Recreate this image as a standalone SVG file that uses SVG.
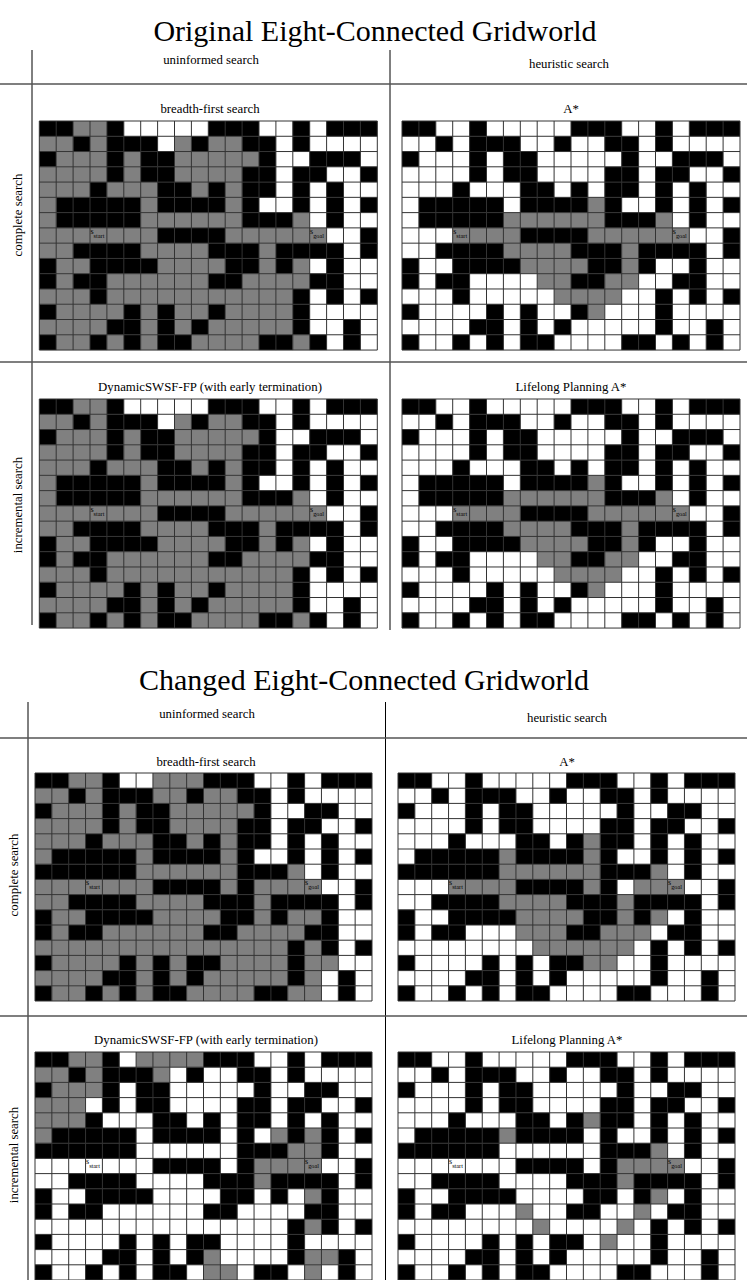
<svg xmlns="http://www.w3.org/2000/svg" xmlns:xlink="http://www.w3.org/1999/xlink" width="747" height="1280" viewBox="0 0 747 1280">
<style>
text{font-family:"Liberation Serif","Times New Roman",serif;fill:#000}
.title{font-size:30px;text-anchor:middle}
.hdr{font-size:12.8px;text-anchor:middle}
.lbl{font-size:8px}
.sub{font-size:6.3px}
.g rect{fill:#808080}
.w rect{fill:#000}
.rule{stroke:#555;stroke-width:1.5}
.vrule{stroke:#000;stroke-width:1}
.gl{fill:none;stroke:#333;stroke-width:1;vector-effect:non-scaling-stroke}
</style>
<defs>
<g id="wallsO" class="w">
<rect x="0" y="0" width="2" height="1"/><rect x="4" y="0" width="1" height="1"/><rect x="10" y="0" width="3" height="1"/><rect x="15" y="0" width="1" height="1"/><rect x="17" y="0" width="3" height="1"/>
<rect x="2" y="1" width="1" height="1"/><rect x="4" y="1" width="3" height="1"/><rect x="9" y="1" width="1" height="1"/><rect x="12" y="1" width="2" height="1"/><rect x="15" y="1" width="1" height="1"/>
<rect x="0" y="2" width="1" height="1"/><rect x="4" y="2" width="1" height="1"/><rect x="6" y="2" width="2" height="1"/><rect x="13" y="2" width="1" height="1"/><rect x="16" y="2" width="3" height="1"/>
<rect x="4" y="3" width="1" height="1"/><rect x="6" y="3" width="2" height="1"/><rect x="12" y="3" width="2" height="1"/><rect x="15" y="3" width="2" height="1"/><rect x="19" y="3" width="1" height="1"/>
<rect x="3" y="4" width="1" height="1"/><rect x="7" y="4" width="2" height="1"/><rect x="10" y="4" width="1" height="1"/><rect x="12" y="4" width="2" height="1"/><rect x="15" y="4" width="1" height="1"/><rect x="17" y="4" width="1" height="1"/>
<rect x="1" y="5" width="5" height="1"/><rect x="7" y="5" width="4" height="1"/><rect x="12" y="5" width="1" height="1"/><rect x="15" y="5" width="1" height="1"/><rect x="17" y="5" width="1" height="1"/><rect x="19" y="5" width="1" height="1"/>
<rect x="1" y="6" width="5" height="1"/><rect x="12" y="6" width="3" height="1"/><rect x="17" y="6" width="1" height="1"/>
<rect x="7" y="7" width="4" height="1"/><rect x="19" y="7" width="1" height="1"/>
<rect x="2" y="8" width="4" height="1"/><rect x="10" y="8" width="3" height="1"/><rect x="14" y="8" width="4" height="1"/><rect x="19" y="8" width="1" height="1"/>
<rect x="0" y="9" width="1" height="1"/><rect x="3" y="9" width="4" height="1"/><rect x="11" y="9" width="2" height="1"/><rect x="14" y="9" width="1" height="1"/><rect x="17" y="9" width="1" height="1"/>
<rect x="0" y="10" width="1" height="1"/><rect x="2" y="10" width="2" height="1"/><rect x="10" y="10" width="2" height="1"/><rect x="16" y="10" width="2" height="1"/>
<rect x="3" y="11" width="1" height="1"/><rect x="15" y="11" width="1" height="1"/><rect x="17" y="11" width="1" height="1"/><rect x="19" y="11" width="1" height="1"/>
<rect x="0" y="12" width="1" height="1"/><rect x="5" y="12" width="1" height="1"/><rect x="7" y="12" width="1" height="1"/><rect x="10" y="12" width="1" height="1"/><rect x="15" y="12" width="1" height="1"/>
<rect x="4" y="13" width="2" height="1"/><rect x="7" y="13" width="1" height="1"/><rect x="9" y="13" width="1" height="1"/><rect x="15" y="13" width="1" height="1"/><rect x="18" y="13" width="1" height="1"/>
<rect x="0" y="14" width="1" height="1"/><rect x="3" y="14" width="1" height="1"/><rect x="5" y="14" width="1" height="1"/><rect x="7" y="14" width="2" height="1"/><rect x="13" y="14" width="2" height="1"/><rect x="16" y="14" width="1" height="1"/><rect x="18" y="14" width="1" height="1"/>
</g>
<g id="wallsC" class="w">
<rect x="0" y="0" width="2" height="1"/><rect x="4" y="0" width="1" height="1"/><rect x="10" y="0" width="3" height="1"/><rect x="15" y="0" width="1" height="1"/><rect x="17" y="0" width="3" height="1"/>
<rect x="2" y="1" width="1" height="1"/><rect x="4" y="1" width="3" height="1"/><rect x="9" y="1" width="1" height="1"/><rect x="12" y="1" width="2" height="1"/><rect x="15" y="1" width="1" height="1"/>
<rect x="0" y="2" width="1" height="1"/><rect x="4" y="2" width="1" height="1"/><rect x="6" y="2" width="2" height="1"/><rect x="13" y="2" width="1" height="1"/><rect x="16" y="2" width="2" height="1"/>
<rect x="4" y="3" width="1" height="1"/><rect x="6" y="3" width="2" height="1"/><rect x="12" y="3" width="2" height="1"/><rect x="15" y="3" width="2" height="1"/><rect x="19" y="3" width="1" height="1"/>
<rect x="3" y="4" width="1" height="1"/><rect x="7" y="4" width="2" height="1"/><rect x="10" y="4" width="1" height="1"/><rect x="12" y="4" width="2" height="1"/><rect x="15" y="4" width="1" height="1"/><rect x="17" y="4" width="1" height="1"/>
<rect x="1" y="5" width="5" height="1"/><rect x="7" y="5" width="4" height="1"/><rect x="12" y="5" width="1" height="1"/><rect x="15" y="5" width="1" height="1"/><rect x="17" y="5" width="1" height="1"/><rect x="19" y="5" width="1" height="1"/>
<rect x="0" y="6" width="6" height="1"/><rect x="12" y="6" width="3" height="1"/><rect x="17" y="6" width="1" height="1"/>
<rect x="7" y="7" width="4" height="1"/><rect x="12" y="7" width="1" height="1"/><rect x="19" y="7" width="1" height="1"/>
<rect x="2" y="8" width="4" height="1"/><rect x="10" y="8" width="3" height="1"/><rect x="14" y="8" width="4" height="1"/><rect x="19" y="8" width="1" height="1"/>
<rect x="0" y="9" width="1" height="1"/><rect x="3" y="9" width="4" height="1"/><rect x="11" y="9" width="2" height="1"/><rect x="14" y="9" width="1" height="1"/><rect x="17" y="9" width="1" height="1"/>
<rect x="0" y="10" width="1" height="1"/><rect x="2" y="10" width="2" height="1"/><rect x="10" y="10" width="2" height="1"/><rect x="16" y="10" width="2" height="1"/>
<rect x="15" y="11" width="1" height="1"/><rect x="17" y="11" width="1" height="1"/><rect x="19" y="11" width="1" height="1"/>
<rect x="0" y="12" width="1" height="1"/><rect x="5" y="12" width="1" height="1"/><rect x="7" y="12" width="1" height="1"/><rect x="9" y="12" width="2" height="1"/><rect x="15" y="12" width="1" height="1"/>
<rect x="4" y="13" width="2" height="1"/><rect x="7" y="13" width="1" height="1"/><rect x="9" y="13" width="1" height="1"/><rect x="15" y="13" width="1" height="1"/><rect x="18" y="13" width="1" height="1"/>
<rect x="0" y="14" width="1" height="1"/><rect x="3" y="14" width="1" height="1"/><rect x="5" y="14" width="1" height="1"/><rect x="7" y="14" width="2" height="1"/><rect x="13" y="14" width="2" height="1"/><rect x="18" y="14" width="1" height="1"/>
</g>
<g id="greyOB" class="g">
<rect x="2" y="0" width="2" height="1"/>
<rect x="0" y="1" width="2" height="1"/><rect x="3" y="1" width="1" height="1"/><rect x="8" y="1" width="1" height="1"/><rect x="10" y="1" width="2" height="1"/>
<rect x="1" y="2" width="3" height="1"/><rect x="5" y="2" width="1" height="1"/><rect x="8" y="2" width="5" height="1"/>
<rect x="0" y="3" width="4" height="1"/><rect x="5" y="3" width="1" height="1"/><rect x="8" y="3" width="4" height="1"/>
<rect x="0" y="4" width="3" height="1"/><rect x="4" y="4" width="3" height="1"/><rect x="9" y="4" width="1" height="1"/><rect x="11" y="4" width="1" height="1"/>
<rect x="0" y="5" width="1" height="1"/><rect x="6" y="5" width="1" height="1"/><rect x="11" y="5" width="1" height="1"/>
<rect x="0" y="6" width="1" height="1"/><rect x="6" y="6" width="6" height="1"/><rect x="15" y="6" width="1" height="1"/>
<rect x="0" y="7" width="7" height="1"/><rect x="11" y="7" width="6" height="1"/>
<rect x="0" y="8" width="2" height="1"/><rect x="6" y="8" width="4" height="1"/><rect x="13" y="8" width="1" height="1"/>
<rect x="1" y="9" width="2" height="1"/><rect x="7" y="9" width="4" height="1"/><rect x="13" y="9" width="1" height="1"/><rect x="15" y="9" width="1" height="1"/>
<rect x="1" y="10" width="1" height="1"/><rect x="4" y="10" width="6" height="1"/><rect x="12" y="10" width="4" height="1"/>
<rect x="0" y="11" width="3" height="1"/><rect x="4" y="11" width="11" height="1"/>
<rect x="1" y="12" width="4" height="1"/><rect x="6" y="12" width="1" height="1"/><rect x="8" y="12" width="2" height="1"/><rect x="11" y="12" width="4" height="1"/>
<rect x="0" y="13" width="4" height="1"/><rect x="6" y="13" width="1" height="1"/><rect x="8" y="13" width="1" height="1"/><rect x="10" y="13" width="5" height="1"/>
<rect x="1" y="14" width="2" height="1"/><rect x="4" y="14" width="1" height="1"/><rect x="6" y="14" width="1" height="1"/><rect x="9" y="14" width="4" height="1"/><rect x="15" y="14" width="1" height="1"/>
</g>
<g id="greyOA" class="g">
<rect x="11" y="5" width="1" height="1"/>
<rect x="6" y="6" width="6" height="1"/><rect x="15" y="6" width="1" height="1"/>
<rect x="3" y="7" width="4" height="1"/><rect x="11" y="7" width="6" height="1"/>
<rect x="6" y="8" width="4" height="1"/><rect x="13" y="8" width="1" height="1"/>
<rect x="7" y="9" width="4" height="1"/><rect x="13" y="9" width="1" height="1"/>
<rect x="8" y="10" width="2" height="1"/><rect x="12" y="10" width="2" height="1"/>
<rect x="9" y="11" width="4" height="1"/>
<rect x="11" y="12" width="1" height="1"/>
</g>
<path id="gridlines" class="gl" d="M0 0V15M1 0V15M2 0V15M3 0V15M4 0V15M5 0V15M6 0V15M7 0V15M8 0V15M9 0V15M10 0V15M11 0V15M12 0V15M13 0V15M14 0V15M15 0V15M16 0V15M17 0V15M18 0V15M19 0V15M20 0V15M0 0H20M0 1H20M0 2H20M0 3H20M0 4H20M0 5H20M0 6H20M0 7H20M0 8H20M0 9H20M0 10H20M0 11H20M0 12H20M0 13H20M0 14H20M0 15H20"/>
</defs>

<g id="section-original">
<text class="title" x="375" y="41">Original Eight-Connected Gridworld</text>
<g id="table-lines-original">
<line class="vrule" x1="32" y1="50" x2="32" y2="625"/>
<line class="vrule" x1="390" y1="50" x2="390" y2="630"/>
<line class="rule" x1="0" y1="84" x2="747" y2="84"/>
<line class="rule" x1="0" y1="362" x2="747" y2="362"/>
</g>
<text class="hdr" x="211" y="64">uninformed search</text>
<text class="hdr" x="569" y="68">heuristic search</text>
<text class="hdr" transform="translate(22,215) rotate(-90)">complete search</text>
<text class="hdr" transform="translate(22,505) rotate(-90)">incremental search</text>
<text class="hdr" x="210" y="113">breadth-first search</text>
<text class="hdr" x="571" y="113">A*</text>
<text class="hdr" x="210" y="391">DynamicSWSF-FP (with early termination)</text>
<text class="hdr" x="571" y="391">Lifelong Planning A*</text>

<g id="panel-orig-bfs" transform="translate(39.3,121)">
<g transform="scale(16.9,15.27)"><rect width="20" height="15" fill="#fff"/><use xlink:href="#wallsO"/><use xlink:href="#greyOB"/><use xlink:href="#gridlines"/></g>
<text class="lbl" x="51.2" y="113">s<tspan class="sub" dy="3.5">start</tspan></text>
<text class="lbl" x="270.8" y="113">s<tspan class="sub" dy="3.5">goal</tspan></text>
</g>
<g id="panel-orig-astar" transform="translate(402,121)">
<g transform="scale(16.9,15.27)"><rect width="20" height="15" fill="#fff"/><use xlink:href="#wallsO"/><use xlink:href="#greyOA"/><use xlink:href="#gridlines"/></g>
<text class="lbl" x="51.2" y="113">s<tspan class="sub" dy="3.5">start</tspan></text>
<text class="lbl" x="270.8" y="113">s<tspan class="sub" dy="3.5">goal</tspan></text>
</g>
<g id="panel-orig-dswsf" transform="translate(39.3,399)">
<g transform="scale(16.9,15.27)"><rect width="20" height="15" fill="#fff"/><use xlink:href="#wallsO"/><use xlink:href="#greyOB"/><use xlink:href="#gridlines"/></g>
<text class="lbl" x="51.2" y="113">s<tspan class="sub" dy="3.5">start</tspan></text>
<text class="lbl" x="270.8" y="113">s<tspan class="sub" dy="3.5">goal</tspan></text>
</g>
<g id="panel-orig-lpa" transform="translate(402,399)">
<g transform="scale(16.9,15.27)"><rect width="20" height="15" fill="#fff"/><use xlink:href="#wallsO"/><use xlink:href="#greyOA"/><use xlink:href="#gridlines"/></g>
<text class="lbl" x="51.2" y="113">s<tspan class="sub" dy="3.5">start</tspan></text>
<text class="lbl" x="270.8" y="113">s<tspan class="sub" dy="3.5">goal</tspan></text>
</g>
</g>

<g id="section-changed">
<text class="title" x="364" y="690">Changed Eight-Connected Gridworld</text>
<g id="table-lines-changed">
<line class="vrule" x1="28" y1="702" x2="28" y2="1280"/>
<line class="vrule" x1="385.5" y1="702" x2="385.5" y2="1280"/>
<line class="rule" x1="0" y1="738" x2="747" y2="738"/>
<line class="rule" x1="0" y1="1016" x2="747" y2="1016"/>
</g>
<text class="hdr" x="207" y="718">uninformed search</text>
<text class="hdr" x="567" y="722">heuristic search</text>
<text class="hdr" transform="translate(18,875) rotate(-90)">complete search</text>
<text class="hdr" transform="translate(18,1155) rotate(-90)">incremental search</text>
<text class="hdr" x="206" y="766">breadth-first search</text>
<text class="hdr" x="567" y="766">A*</text>
<text class="hdr" x="206" y="1044">DynamicSWSF-FP (with early termination)</text>
<text class="hdr" x="567" y="1044">Lifelong Planning A*</text>

<g id="panel-changed-bfs" transform="translate(35,773)">
<g transform="scale(16.85,15.2)"><rect width="20" height="15" fill="#fff"/><use xlink:href="#wallsC"/>
<g class="g">
<rect x="2" y="0" width="2" height="1"/><rect x="7" y="0" width="3" height="1"/>
<rect x="0" y="1" width="2" height="1"/><rect x="3" y="1" width="1" height="1"/><rect x="7" y="1" width="2" height="1"/><rect x="10" y="1" width="2" height="1"/>
<rect x="1" y="2" width="3" height="1"/><rect x="5" y="2" width="1" height="1"/><rect x="8" y="2" width="5" height="1"/>
<rect x="0" y="3" width="4" height="1"/><rect x="5" y="3" width="1" height="1"/><rect x="8" y="3" width="4" height="1"/>
<rect x="0" y="4" width="3" height="1"/><rect x="4" y="4" width="3" height="1"/><rect x="9" y="4" width="1" height="1"/><rect x="11" y="4" width="1" height="1"/>
<rect x="0" y="5" width="1" height="1"/><rect x="6" y="5" width="1" height="1"/><rect x="11" y="5" width="1" height="1"/>
<rect x="6" y="6" width="6" height="1"/><rect x="15" y="6" width="1" height="1"/>
<rect x="0" y="7" width="7" height="1"/><rect x="11" y="7" width="1" height="1"/><rect x="13" y="7" width="4" height="1"/>
<rect x="0" y="8" width="2" height="1"/><rect x="6" y="8" width="4" height="1"/><rect x="13" y="8" width="1" height="1"/>
<rect x="1" y="9" width="2" height="1"/><rect x="7" y="9" width="4" height="1"/><rect x="13" y="9" width="1" height="1"/><rect x="15" y="9" width="2" height="1"/>
<rect x="1" y="10" width="1" height="1"/><rect x="4" y="10" width="6" height="1"/><rect x="12" y="10" width="4" height="1"/>
<rect x="0" y="11" width="15" height="1"/><rect x="16" y="11" width="1" height="1"/>
<rect x="1" y="12" width="4" height="1"/><rect x="6" y="12" width="1" height="1"/><rect x="8" y="12" width="1" height="1"/><rect x="11" y="12" width="4" height="1"/><rect x="16" y="12" width="2" height="1"/>
<rect x="0" y="13" width="4" height="1"/><rect x="6" y="13" width="1" height="1"/><rect x="8" y="13" width="1" height="1"/><rect x="10" y="13" width="5" height="1"/><rect x="16" y="13" width="1" height="1"/>
<rect x="1" y="14" width="2" height="1"/><rect x="4" y="14" width="1" height="1"/><rect x="6" y="14" width="1" height="1"/><rect x="9" y="14" width="4" height="1"/><rect x="15" y="14" width="2" height="1"/>
</g>
<use xlink:href="#gridlines"/></g>
<text class="lbl" x="51" y="112.4">s<tspan class="sub" dy="3.5">start</tspan></text>
<text class="lbl" x="270" y="112.4">s<tspan class="sub" dy="3.5">goal</tspan></text>
</g>
<g id="panel-changed-astar" transform="translate(398,773)">
<g transform="scale(16.85,15.2)"><rect width="20" height="15" fill="#fff"/><use xlink:href="#wallsC"/>
<g class="g">
<rect x="11" y="4" width="1" height="1"/>
<rect x="6" y="5" width="1" height="1"/><rect x="11" y="5" width="1" height="1"/>
<rect x="6" y="6" width="6" height="1"/><rect x="15" y="6" width="1" height="1"/>
<rect x="3" y="7" width="4" height="1"/><rect x="11" y="7" width="1" height="1"/><rect x="14" y="7" width="3" height="1"/>
<rect x="6" y="8" width="4" height="1"/><rect x="13" y="8" width="1" height="1"/>
<rect x="7" y="9" width="4" height="1"/><rect x="13" y="9" width="1" height="1"/><rect x="15" y="9" width="1" height="1"/>
<rect x="7" y="10" width="3" height="1"/><rect x="12" y="10" width="3" height="1"/>
<rect x="8" y="11" width="6" height="1"/>
<rect x="11" y="12" width="2" height="1"/>
</g>
<use xlink:href="#gridlines"/></g>
<text class="lbl" x="51" y="112.4">s<tspan class="sub" dy="3.5">start</tspan></text>
<text class="lbl" x="270" y="112.4">s<tspan class="sub" dy="3.5">goal</tspan></text>
</g>
<g id="panel-changed-dswsf" transform="translate(35,1052)">
<g transform="scale(16.85,15.2)"><rect width="20" height="15" fill="#fff"/><use xlink:href="#wallsC"/>
<g class="g">
<rect x="2" y="0" width="2" height="1"/><rect x="6" y="0" width="4" height="1"/>
<rect x="0" y="1" width="2" height="1"/><rect x="3" y="1" width="1" height="1"/><rect x="7" y="1" width="1" height="1"/>
<rect x="1" y="2" width="3" height="1"/>
<rect x="0" y="3" width="3" height="1"/>
<rect x="0" y="4" width="3" height="1"/>
<rect x="0" y="5" width="1" height="1"/><rect x="14" y="5" width="1" height="1"/><rect x="16" y="5" width="1" height="1"/>
<rect x="15" y="6" width="2" height="1"/>
<rect x="13" y="7" width="4" height="1"/>
<rect x="13" y="8" width="1" height="1"/>
<rect x="16" y="9" width="1" height="1"/>
<rect x="16" y="11" width="1" height="1"/>
<rect x="10" y="13" width="1" height="1"/><rect x="16" y="13" width="2" height="1"/>
<rect x="10" y="14" width="2" height="1"/><rect x="16" y="14" width="1" height="1"/>
</g>
<use xlink:href="#gridlines"/></g>
<text class="lbl" x="51" y="112.4">s<tspan class="sub" dy="3.5">start</tspan></text>
<text class="lbl" x="270" y="112.4">s<tspan class="sub" dy="3.5">goal</tspan></text>
</g>
<g id="panel-changed-lpa" transform="translate(398,1052)">
<g transform="scale(16.85,15.2)"><rect width="20" height="15" fill="#fff"/><use xlink:href="#wallsC"/>
<g class="g">
<rect x="11" y="4" width="1" height="1"/>
<rect x="6" y="5" width="1" height="1"/>
<rect x="15" y="6" width="1" height="1"/>
<rect x="13" y="7" width="4" height="1"/>
<rect x="13" y="8" width="1" height="1"/>
<rect x="15" y="9" width="1" height="1"/>
<rect x="7" y="10" width="1" height="1"/><rect x="14" y="10" width="1" height="1"/>
<rect x="8" y="11" width="1" height="1"/><rect x="13" y="11" width="1" height="1"/>
<rect x="12" y="12" width="1" height="1"/>
</g>
<use xlink:href="#gridlines"/></g>
<text class="lbl" x="51" y="112.4">s<tspan class="sub" dy="3.5">start</tspan></text>
<text class="lbl" x="270" y="112.4">s<tspan class="sub" dy="3.5">goal</tspan></text>
</g>
</g>
</svg>
